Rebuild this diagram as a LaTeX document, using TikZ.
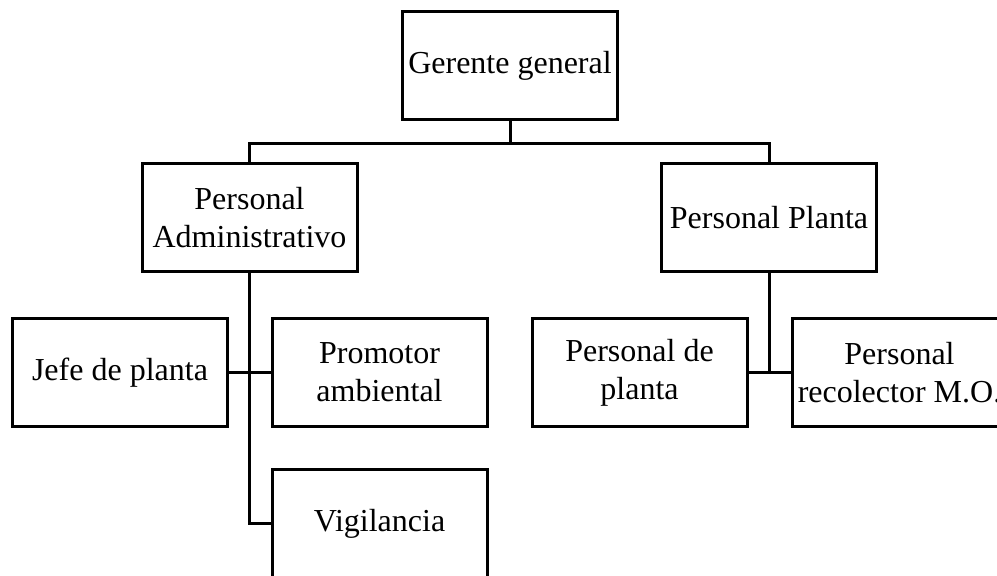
\documentclass[tikz,border=0pt]{standalone}
\usepackage{fontspec}
\setmainfont{Liberation Serif}
\usepackage{tikz}

\begin{document}
\begin{tikzpicture}[x=0.5pt,y=-0.5pt,
    puesto/.style={draw, line width=1.5pt, minimum width=107.5pt, minimum height=54pt,
      align=center, inner sep=2pt, font=\fontsize{16}{19}\selectfont},
    enlace/.style={line width=1.5pt}]
          % marco
          \useasboundingbox (0,0) rectangle (997,576);
          \clip (0,0) rectangle (997,576);
          \node (ger) at (510,65.5) [puesto] {Gerente general};
          \node (adm) at (249.5,218) [puesto] {Personal\\Administrativo};
          \node (pla) at (769,218) [puesto] {Personal Planta};
          \node (jefe) at (120,372.5) [puesto] {Jefe de planta};
          \node (prom) at (379.5,372.5) [puesto] {Promotor\\ambiental};
          \node (vig) at (379.5,524) [puesto] {Vigilancia};
          \node (ppl) at (639.5,372.5) [puesto] {Personal de\\planta};
          \node (rec) at (899.5,372.5) [puesto] {Personal\\recolector M.O.};
          \draw[enlace] (ger.south) -- ++(0,23) -| (adm.north);
          \draw[enlace] (ger.south) ++(0,23) -| (pla.north);
          \draw[enlace] (adm.south) |- (vig.west);
          \draw[enlace] (jefe.east) -- (prom.west);
          \draw[enlace] (pla.south) -- (pla.south |- ppl.east);
          \draw[enlace] (ppl.east) -- (rec.west);
        \end{tikzpicture}
\end{document}
